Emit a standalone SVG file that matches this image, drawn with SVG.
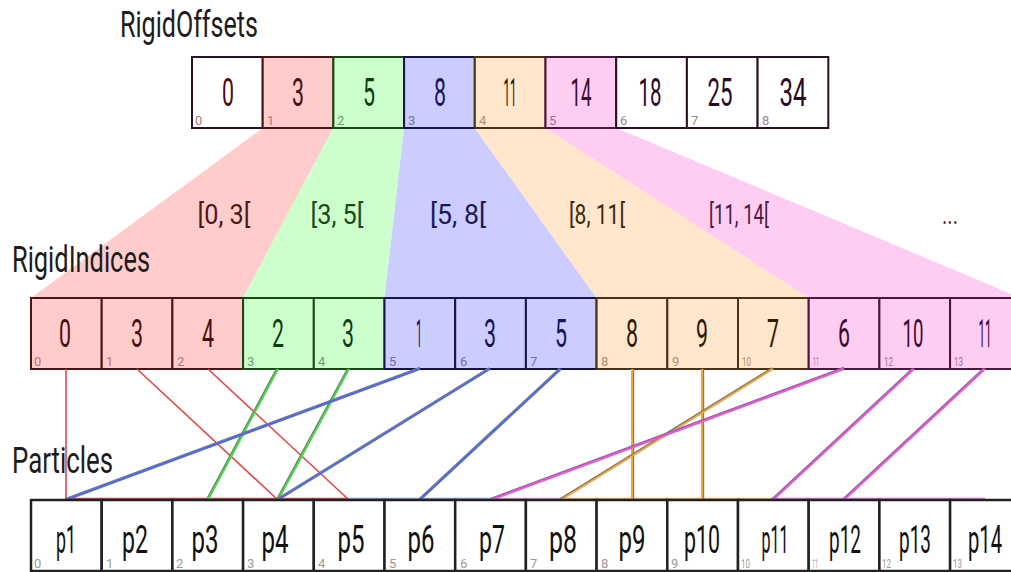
<svg xmlns="http://www.w3.org/2000/svg" xmlns:xlink="http://www.w3.org/1999/xlink" width="1011" height="572" viewBox="0 0 1011 572">
<style>
text{font-family:Roboto,"Open Sans","DejaVu Sans",sans-serif;}
.title{font-size:36px;fill:#1c1c1c;}
.big{font-size:39px;text-anchor:middle;}
.pl{font-size:39px;text-anchor:middle;fill:#111;}
.idx{font-size:13px;}
.rng{font-size:28px;text-anchor:middle;}
.cell{stroke-width:2;}
.r{fill:#ffcccc;stroke:#4a1515;}
.g{fill:#ccffcc;stroke:#154a15;}
.b{fill:#ccccff;stroke:#15154a;}
.o{fill:#ffe6cc;stroke:#4a3315;}
.p{fill:#ffccf2;stroke:#4a1540;}
.w{fill:#ffffff;stroke:#2a1025;}
.pw{fill:#ffffff;stroke:#222;stroke-width:2.5;}
.tr{fill:#4a0d0d;} .tg{fill:#0d3d0d;} .tb{fill:#14145a;} .to{fill:#2e1a00;} .tp{fill:#3d0a30;} .tw{fill:#2a0a22;}
.ir{fill:#b07878;} .ig{fill:#6aa06a;} .ib{fill:#7070b0;} .io{fill:#b09070;} .ip{fill:#a070a0;} .iw{fill:#a08098;} .ik{fill:#999;}
.band{stroke:none;}
.sh{stroke:#7a7a7a;stroke-width:2;fill:none;}
.cr{stroke:#e04848;stroke-width:1.6;fill:none;}
.cg{stroke:#44dd44;stroke-width:2;fill:none;}
.cb{stroke:#4a6af0;stroke-width:2;fill:none;}
.co{stroke:#f0a838;stroke-width:2;fill:none;}
.cp{stroke:#f050e8;stroke-width:2;fill:none;}
</style>
<defs>
<line id="l0" x1="66" y1="369" x2="66" y2="500"/>
<line id="l1" x1="137" y1="369" x2="278" y2="500"/>
<line id="l2" x1="208" y1="369" x2="349" y2="500"/>
<line id="l3" x1="278" y1="369" x2="208" y2="500"/>
<line id="l4" x1="349" y1="369" x2="278" y2="500"/>
<line id="l5" x1="420" y1="369" x2="66" y2="500"/>
<line id="l6" x1="490" y1="369" x2="278" y2="500"/>
<line id="l7" x1="561" y1="369" x2="420" y2="500"/>
<line id="l8" x1="632" y1="369" x2="632" y2="500"/>
<line id="l9" x1="702" y1="369" x2="702" y2="500"/>
<line id="l10" x1="773" y1="369" x2="561" y2="500"/>
<line id="l11" x1="844" y1="369" x2="491" y2="500"/>
<line id="l12" x1="914" y1="369" x2="773" y2="500"/>
<line id="l13" x1="985" y1="369" x2="844" y2="500"/>
</defs>
<rect width="1011" height="572" fill="#ffffff"/>

<g id="bands">
<polygon class="band" fill="#ffcccc" points="262.7,128 333.4,128 243.1,298 31,298"/>
<polygon class="band" fill="#ccffcc" points="333.4,128 404.1,128 384.5,298 243.1,298"/>
<polygon class="band" fill="#ccccff" points="404.1,128 474.8,128 596.6,298 384.5,298"/>
<polygon class="band" fill="#ffe6cc" points="474.8,128 545.5,128 808.7,298 596.6,298"/>
<polygon class="band" fill="#ffccf2" points="545.5,128 616.2,128 1020.8,298 808.7,298"/>
<text class="rng" x="224" y="224" fill="#4a1a1a" textLength="53" lengthAdjust="spacingAndGlyphs">[0, 3[</text>
<text class="rng" x="337" y="224" fill="#1a4a1a" textLength="53" lengthAdjust="spacingAndGlyphs">[3, 5[</text>
<text class="rng" x="458" y="224" fill="#1a1a5a" textLength="56" lengthAdjust="spacingAndGlyphs">[5, 8[</text>
<text class="rng" x="597" y="224" fill="#3a2a10" textLength="56" lengthAdjust="spacingAndGlyphs">[8, 11[</text>
<text class="rng" x="739" y="224" fill="#4a1a40" textLength="60" lengthAdjust="spacingAndGlyphs">[11, 14[</text>
<text class="rng" x="950" y="224" fill="#4a1a40" textLength="16" lengthAdjust="spacingAndGlyphs">...</text>
</g>

<text id="t-offsets" class="title" x="120" y="37" textLength="138" lengthAdjust="spacingAndGlyphs">RigidOffsets</text>
<text id="t-indices" class="title" x="12" y="272" textLength="138" lengthAdjust="spacingAndGlyphs">RigidIndices</text>
<text id="t-particles" class="title" x="12" y="473" textLength="101" lengthAdjust="spacingAndGlyphs">Particles</text>

<g id="offsets">
<g id="o0"><rect class="cell w" x="192" y="57" width="70.7" height="71"/><text class="big tr" x="228" y="106" textLength="12" lengthAdjust="spacingAndGlyphs">0</text><text class="idx ir" x="195" y="125">0</text></g>
<g id="o1"><rect class="cell r" x="262.7" y="57" width="70.7" height="71"/><text class="big tr" x="298" y="106" textLength="12" lengthAdjust="spacingAndGlyphs">3</text><text class="idx ir" x="267" y="125">1</text></g>
<g id="o2"><rect class="cell g" x="333.4" y="57" width="70.7" height="71"/><text class="big tg" x="369" y="106" textLength="12" lengthAdjust="spacingAndGlyphs">5</text><text class="idx ig" x="337" y="125">2</text></g>
<g id="o3"><rect class="cell b" x="404.1" y="57" width="70.7" height="71"/><text class="big tb" x="440" y="106" textLength="12" lengthAdjust="spacingAndGlyphs">8</text><text class="idx ib" x="408" y="125">3</text></g>
<g id="o4"><rect class="cell o" x="474.8" y="57" width="70.7" height="71"/><text class="big to" x="510" y="106" textLength="13" lengthAdjust="spacingAndGlyphs">11</text><text class="idx io" x="479" y="125">4</text></g>
<g id="o5"><rect class="cell p" x="545.5" y="57" width="70.7" height="71"/><text class="big tp" x="581" y="106" textLength="21" lengthAdjust="spacingAndGlyphs">14</text><text class="idx ip" x="549" y="125">5</text></g>
<g id="o6"><rect class="cell w" x="616.2" y="57" width="70.7" height="71"/><text class="big tw" x="650" y="106" textLength="23" lengthAdjust="spacingAndGlyphs">18</text><text class="idx iw" x="620" y="125">6</text></g>
<g id="o7"><rect class="cell w" x="686.9" y="57" width="70.7" height="71"/><text class="big tw" x="720" y="106" textLength="25" lengthAdjust="spacingAndGlyphs">25</text><text class="idx iw" x="691" y="125">7</text></g>
<g id="o8"><rect class="cell w" x="757.6" y="57" width="70.7" height="71"/><text class="big tw" x="793" y="106" textLength="27" lengthAdjust="spacingAndGlyphs">34</text><text class="idx iw" x="762" y="125">8</text></g>
</g>

<g id="indices">
<g id="i0"><rect class="cell r" x="31" y="298" width="70.7" height="71"/><text class="big tr" x="65" y="347" textLength="12" lengthAdjust="spacingAndGlyphs">0</text><text class="idx ir" x="34" y="366">0</text></g>
<g id="i1"><rect class="cell r" x="101.7" y="298" width="70.7" height="71"/><text class="big tr" x="137" y="347" textLength="12" lengthAdjust="spacingAndGlyphs">3</text><text class="idx ir" x="106" y="366">1</text></g>
<g id="i2"><rect class="cell r" x="172.4" y="298" width="70.7" height="71"/><text class="big tr" x="208" y="347" textLength="12" lengthAdjust="spacingAndGlyphs">4</text><text class="idx ir" x="177" y="366">2</text></g>
<g id="i3"><rect class="cell g" x="243.1" y="298" width="70.7" height="71"/><text class="big tg" x="278" y="347" textLength="12" lengthAdjust="spacingAndGlyphs">2</text><text class="idx ig" x="247" y="366">3</text></g>
<g id="i4"><rect class="cell g" x="313.8" y="298" width="70.7" height="71"/><text class="big tg" x="348" y="347" textLength="12" lengthAdjust="spacingAndGlyphs">3</text><text class="idx ig" x="318" y="366">4</text></g>
<g id="i5"><rect class="cell b" x="384.5" y="298" width="70.7" height="71"/><text class="big tb" x="419" y="347" textLength="6" lengthAdjust="spacingAndGlyphs">1</text><text class="idx ib" x="389" y="366">5</text></g>
<g id="i6"><rect class="cell b" x="455.2" y="298" width="70.7" height="71"/><text class="big tb" x="490" y="347" textLength="12" lengthAdjust="spacingAndGlyphs">3</text><text class="idx ib" x="460" y="366">6</text></g>
<g id="i7"><rect class="cell b" x="525.9" y="298" width="70.7" height="71"/><text class="big tb" x="561" y="347" textLength="12" lengthAdjust="spacingAndGlyphs">5</text><text class="idx ib" x="530" y="366">7</text></g>
<g id="i8"><rect class="cell o" x="596.6" y="298" width="70.7" height="71"/><text class="big to" x="632" y="347" textLength="12" lengthAdjust="spacingAndGlyphs">8</text><text class="idx io" x="601" y="366">8</text></g>
<g id="i9"><rect class="cell o" x="667.3" y="298" width="70.7" height="71"/><text class="big to" x="702" y="347" textLength="12" lengthAdjust="spacingAndGlyphs">9</text><text class="idx io" x="672" y="366">9</text></g>
<g id="i10"><rect class="cell o" x="738" y="298" width="70.7" height="71"/><text class="big to" x="773" y="347" textLength="12" lengthAdjust="spacingAndGlyphs">7</text><text class="idx io" x="742" y="366" textLength="9" lengthAdjust="spacingAndGlyphs">10</text></g>
<g id="i11"><rect class="cell p" x="808.7" y="298" width="70.7" height="71"/><text class="big tp" x="844" y="347" textLength="12" lengthAdjust="spacingAndGlyphs">6</text><text class="idx ip" x="813" y="366" textLength="6" lengthAdjust="spacingAndGlyphs">11</text></g>
<g id="i12"><rect class="cell p" x="879.4" y="298" width="70.7" height="71"/><text class="big tp" x="913" y="347" textLength="21" lengthAdjust="spacingAndGlyphs">10</text><text class="idx ip" x="884" y="366" textLength="9" lengthAdjust="spacingAndGlyphs">12</text></g>
<g id="i13"><rect class="cell p" x="950.1" y="298" width="70.7" height="71"/><text class="big tp" x="985" y="347" textLength="13" lengthAdjust="spacingAndGlyphs">11</text><text class="idx ip" x="954" y="366" textLength="9" lengthAdjust="spacingAndGlyphs">13</text></g>
</g>

<g id="connectors">
<line x1="65" y1="498.5" x2="347" y2="498.5" stroke="#e04848" stroke-width="1.5"/>
<line x1="347" y1="498.5" x2="493" y2="498.5" stroke="#8899ee" stroke-width="1.5"/>
<line x1="493" y1="498.5" x2="560" y2="498.5" stroke="#f090e0" stroke-width="1.5"/>
<line x1="560" y1="498.5" x2="771" y2="498.5" stroke="#f0b060" stroke-width="1.5"/>
<line x1="771" y1="498.5" x2="985" y2="498.5" stroke="#f070e8" stroke-width="1.5"/>
<use xlink:href="#l0" class="cr"/>
<use xlink:href="#l1" class="cr"/>
<use xlink:href="#l2" class="cr"/>
<use xlink:href="#l3" class="sh" transform="translate(-1.3,0)"/><use xlink:href="#l3" class="cg"/>
<use xlink:href="#l4" class="sh" transform="translate(-1.3,0)"/><use xlink:href="#l4" class="cg"/>
<use xlink:href="#l5" class="sh" transform="translate(0,-1.3)"/><use xlink:href="#l5" class="cb"/>
<use xlink:href="#l6" class="sh" transform="translate(-0.8,-1)"/><use xlink:href="#l6" class="cb"/>
<use xlink:href="#l7" class="sh" transform="translate(-1.2,-0.6)"/><use xlink:href="#l7" class="cb"/>
<use xlink:href="#l8" class="sh" transform="translate(1.2,0)"/><use xlink:href="#l8" class="co"/>
<use xlink:href="#l9" class="sh" transform="translate(1.2,0)"/><use xlink:href="#l9" class="co"/>
<use xlink:href="#l10" class="sh" transform="translate(-0.8,-1)"/><use xlink:href="#l10" class="co"/>
<use xlink:href="#l11" class="sh" transform="translate(0,-1.3)"/><use xlink:href="#l11" class="cp"/>
<use xlink:href="#l12" class="sh" transform="translate(-1.2,-0.6)"/><use xlink:href="#l12" class="cp"/>
<use xlink:href="#l13" class="sh" transform="translate(-1.2,-0.6)"/><use xlink:href="#l13" class="cp"/>
</g>

<g id="particles">
<g id="p1"><rect class="pw" x="31" y="500" width="70.7" height="71"/><text class="pl" x="66" y="553" textLength="20" lengthAdjust="spacingAndGlyphs">p1</text><text class="idx ik" x="34" y="568">0</text></g>
<g id="p2"><rect class="pw" x="101.7" y="500" width="70.7" height="71"/><text class="pl" x="135" y="553" textLength="26" lengthAdjust="spacingAndGlyphs">p2</text><text class="idx ik" x="106" y="568">1</text></g>
<g id="p3"><rect class="pw" x="172.4" y="500" width="70.7" height="71"/><text class="pl" x="205" y="553" textLength="27" lengthAdjust="spacingAndGlyphs">p3</text><text class="idx ik" x="176" y="568">2</text></g>
<g id="p4"><rect class="pw" x="243.1" y="500" width="70.7" height="71"/><text class="pl" x="275" y="553" textLength="27" lengthAdjust="spacingAndGlyphs">p4</text><text class="idx ik" x="247" y="568">3</text></g>
<g id="p5"><rect class="pw" x="313.8" y="500" width="70.7" height="71"/><text class="pl" x="351" y="553" textLength="27" lengthAdjust="spacingAndGlyphs">p5</text><text class="idx ik" x="318" y="568">4</text></g>
<g id="p6"><rect class="pw" x="384.5" y="500" width="70.7" height="71"/><text class="pl" x="421" y="553" textLength="27" lengthAdjust="spacingAndGlyphs">p6</text><text class="idx ik" x="389" y="568">5</text></g>
<g id="p7"><rect class="pw" x="455.2" y="500" width="70.7" height="71"/><text class="pl" x="492" y="553" textLength="26" lengthAdjust="spacingAndGlyphs">p7</text><text class="idx ik" x="460" y="568">6</text></g>
<g id="p8"><rect class="pw" x="525.9" y="500" width="70.7" height="71"/><text class="pl" x="563" y="553" textLength="28" lengthAdjust="spacingAndGlyphs">p8</text><text class="idx ik" x="530" y="568">7</text></g>
<g id="p9"><rect class="pw" x="596.6" y="500" width="70.7" height="71"/><text class="pl" x="632" y="553" textLength="27" lengthAdjust="spacingAndGlyphs">p9</text><text class="idx ik" x="601" y="568">8</text></g>
<g id="p10"><rect class="pw" x="667.3" y="500" width="70.7" height="71"/><text class="pl" x="702" y="553" textLength="36" lengthAdjust="spacingAndGlyphs">p10</text><text class="idx ik" x="671" y="568">9</text></g>
<g id="p11"><rect class="pw" x="738" y="500" width="70.7" height="71"/><text class="pl" x="775" y="553" textLength="27" lengthAdjust="spacingAndGlyphs">p11</text><text class="idx ik" x="741" y="568" textLength="9" lengthAdjust="spacingAndGlyphs">10</text></g>
<g id="p12"><rect class="pw" x="808.7" y="500" width="70.7" height="71"/><text class="pl" x="845" y="553" textLength="32" lengthAdjust="spacingAndGlyphs">p12</text><text class="idx ik" x="812" y="568" textLength="6" lengthAdjust="spacingAndGlyphs">11</text></g>
<g id="p13"><rect class="pw" x="879.4" y="500" width="70.7" height="71"/><text class="pl" x="915" y="553" textLength="32" lengthAdjust="spacingAndGlyphs">p13</text><text class="idx ik" x="882" y="568" textLength="9" lengthAdjust="spacingAndGlyphs">12</text></g>
<g id="p14"><rect class="pw" x="950.1" y="500" width="70.7" height="71"/><text class="pl" x="985" y="553" textLength="34" lengthAdjust="spacingAndGlyphs">p14</text><text class="idx ik" x="953" y="568" textLength="9" lengthAdjust="spacingAndGlyphs">13</text></g>
</g>
</svg>
